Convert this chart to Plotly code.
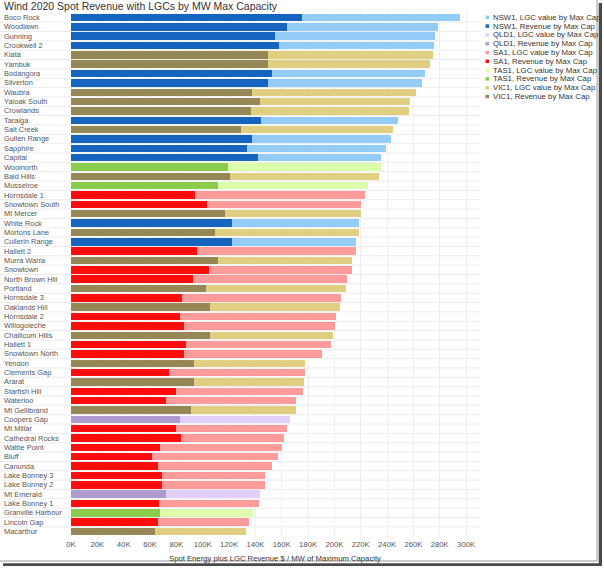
import plotly.graph_objects as go

# ---------------- data (values in $K per MW of max capacity) ----------------
farms = ["Boco Rock", "Woodlawn", "Gunning", "Crookwell 2", "Kiata", "Yambuk", "Bodangora",
         "Silverton", "Waubra", "Yaloak South", "Crowlands", "Taralga", "Salt Creek",
         "Gullen Range", "Sapphire", "Capital", "Woolnorth", "Bald Hills", "Musselroe",
         "Hornsdale 1", "Snowtown South", "Mt Mercer", "White Rock", "Mortons Lane",
         "Cullerin Range", "Hallett 2", "Murra Warra", "Snowtown", "North Brown Hill",
         "Portland", "Hornsdale 3", "Oaklands Hill", "Hornsdale 2", "Willogoleche",
         "Challicum Hills", "Hallett 1", "Snowtown North", "Yendon", "Clements Gap",
         "Ararat", "Starfish Hill", "Waterloo", "Mt Gellibrand", "Coopers Gap", "Mt Millar",
         "Cathedral Rocks", "Wattle Point", "Bluff", "Canunda", "Lake Bonney 3",
         "Lake Bonney 2", "Mt Emerald", "Lake Bonney 1", "Granville Harbour", "Lincoln Gap",
         "Macarthur"]

regions = ["NSW1", "NSW1", "NSW1", "NSW1", "VIC1", "VIC1", "NSW1",
           "NSW1", "VIC1", "VIC1", "VIC1", "NSW1", "VIC1",
           "NSW1", "NSW1", "NSW1", "TAS1", "VIC1", "TAS1",
           "SA1", "SA1", "VIC1", "NSW1", "VIC1",
           "NSW1", "SA1", "VIC1", "SA1", "SA1",
           "VIC1", "SA1", "VIC1", "SA1", "SA1",
           "VIC1", "SA1", "SA1", "VIC1", "SA1",
           "VIC1", "SA1", "SA1", "VIC1", "QLD1", "SA1",
           "SA1", "SA1", "SA1", "SA1", "SA1",
           "SA1", "QLD1", "SA1", "TAS1", "SA1",
           "VIC1"]

revenue = [175.7, 163.7, 154.7, 157.9, 149.3, 149.8, 152.6,
           149.8, 137.7, 143.5, 136.5, 144.3, 129.3,
           137.7, 133.4, 141.7, 119.2, 121.0, 111.6,
           94.4, 103.0, 116.9, 122.5, 109.0,
           122.0, 95.4, 111.6, 105.1, 92.4,
           102.5, 84.5, 105.3, 82.5, 86.0,
           105.3, 87.1, 86.0, 93.1, 74.4,
           93.1, 79.7, 71.9, 91.1, 82.8, 79.7,
           83.5, 67.8, 61.5, 66.3, 69.3,
           69.1, 72.4, 66.8, 67.3, 66.1,
           63.6]

lgc_value = [119.9, 115.0, 121.7, 117.7, 125.3, 122.8, 116.4,
             116.5, 124.5, 114.2, 120.4, 104.2, 115.4,
             105.3, 105.5, 93.9, 115.9, 112.6, 114.2,
             129.1, 117.4, 103.3, 96.2, 109.4,
             94.6, 120.7, 102.0, 108.3, 117.4,
             106.3, 120.3, 99.2, 118.7, 114.7,
             93.6, 110.3, 104.8, 84.6, 103.0,
             84.1, 96.2, 98.9, 79.7, 83.7, 84.5,
             78.5, 92.7, 95.9, 86.1, 77.8,
             78.2, 70.9, 75.7, 71.1, 68.8,
             69.3]

region_order = ["NSW1", "QLD1", "SA1", "TAS1", "VIC1"]
tick_values = [0, 20, 40, 60, 80, 100, 120, 140, 160, 180, 200, 220, 240, 260, 280, 300]
tick_labels = ["0K", "20K", "40K", "60K", "80K", "100K", "120K", "140K", "160K", "180K",
               "200K", "220K", "240K", "260K", "280K", "300K"]

# ---------------- styling ----------------
rev_colors = {"NSW1": "#1565c0", "QLD1": "#ae9bcf", "SA1": "#ff0d0d",
              "TAS1": "#8bcc4e", "VIC1": "#958856"}
lgc_colors = {"NSW1": "#93cdf7", "QLD1": "#e2cffa", "SA1": "#ff9b9b",
              "TAS1": "#dcffab", "VIC1": "#e0cf81"}

FONT = "Arial, Liberation Sans, sans-serif"
W, H = 604, 569
L, R, T, B = 71, 476, 11, 538
PW, PH = R - L, B - T


def px(x):
    return (x - L) / PW


def py(y):
    return (B - y) / PH


fig = go.Figure()

# revenue segments first (stack base), then LGC segments
for reg in region_order:
    ys = [f for f, r in zip(farms, regions) if r == reg]
    xs = [v for v, r in zip(revenue, regions) if r == reg]
    fig.add_trace(go.Bar(y=ys, x=xs, orientation="h", name=f"{reg}, Revenue by Max Cap",
                         marker=dict(color=rev_colors[reg], line=dict(width=0)),
                         showlegend=False))
for reg in region_order:
    ys = [f for f, r in zip(farms, regions) if r == reg]
    xs = [v for v, r in zip(lgc_value, regions) if r == reg]
    fig.add_trace(go.Bar(y=ys, x=xs, orientation="h", name=f"{reg}, LGC value by Max Cap",
                         marker=dict(color=lgc_colors[reg], line=dict(width=0)),
                         showlegend=False))

shapes = []
annotations = []

# row separators
for i in range(len(farms) - 1):
    shapes.append(dict(type="line", xref="paper", yref="y", x0=px(0), x1=px(480),
                       y0=i + 0.5, y1=i + 0.5, line=dict(color="#ececec", width=1),
                       layer="below"))

# left-aligned row labels
for f in farms:
    annotations.append(dict(text=f, xref="paper", yref="y", x=px(2), y=f,
                            xanchor="left", yanchor="middle", showarrow=False,
                            font=dict(family=FONT, size=7.4, color="#555555")))

# manual compact legend
legend_items = []
for reg in region_order:
    legend_items.append((f"{reg}, LGC value by Max Cap", lgc_colors[reg]))
    legend_items.append((f"{reg}, Revenue by Max Cap", rev_colors[reg]))
for k, (txt, col) in enumerate(legend_items):
    yc = 17.3 + k * 8.8
    shapes.append(dict(type="rect", xref="paper", yref="paper",
                       x0=px(485.5), x1=px(489), y0=py(yc + 1.75), y1=py(yc - 1.75),
                       fillcolor=col, line=dict(width=0)))
    annotations.append(dict(text=txt, xref="paper", yref="paper", x=px(490.5), y=py(yc),
                            xanchor="left", yanchor="middle", showarrow=False,
                            font=dict(family=FONT, size=7.8, color="#333333")))

# title and axis title
annotations.append(dict(text="Wind 2020 Spot Revenue with LGCs by MW Max Capacity",
                        xref="paper", yref="paper", x=px(2), y=py(6.5),
                        xanchor="left", yanchor="middle", showarrow=False,
                        font=dict(family=FONT, size=10.5, color="#333333")))
annotations.append(dict(text="Spot Energy plus LGC Revenue $ / MW of Maximum Capacity",
                        xref="paper", yref="paper", x=px(275), y=py(558),
                        xanchor="center", yanchor="middle", showarrow=False,
                        font=dict(family=FONT, size=7.7, color="#333333")))

# picture frame with shadow
shapes.append(dict(type="line", xref="paper", yref="paper", x0=px(597), x1=px(597),
                   y0=py(0), y1=py(561), line=dict(color="#9a9a9a", width=1)))
shapes.append(dict(type="line", xref="paper", yref="paper", x0=px(0), x1=px(597),
                   y0=py(561), y1=py(561), line=dict(color="#9a9a9a", width=1)))
shapes.append(dict(type="rect", xref="paper", yref="paper", x0=px(598.7), x1=px(602),
                   y0=py(566), y1=py(3), fillcolor="#4a4a4a", line=dict(width=0)))
shapes.append(dict(type="rect", xref="paper", yref="paper", x0=px(3), x1=px(602),
                   y0=py(566), y1=py(563.2), fillcolor="#4a4a4a", line=dict(width=0)))

fig.update_layout(
    width=W, height=H,
    margin=dict(l=L, r=W - R, t=T, b=H - B, pad=0),
    barmode="stack", bargap=0.2,
    plot_bgcolor="white", paper_bgcolor="white",
    font=dict(family=FONT, size=7.7, color="#555555"),
    xaxis=dict(range=[0, PW / 1.317], tickmode="array", tickvals=tick_values,
               ticktext=tick_labels,
               showgrid=True, gridcolor="#efefef", gridwidth=1, zeroline=False,
               showline=False, ticks="", tickfont=dict(size=7.7, color="#555555"),
               fixedrange=True),
    yaxis=dict(categoryorder="array", categoryarray=farms, autorange="reversed",
               showticklabels=False, showgrid=False, zeroline=False, ticks="",
               showline=False, fixedrange=True),
    shapes=shapes, annotations=annotations,
    showlegend=False,
)

fig.write_html("out.html", config={"displayModeBar": False},
               post_script="document.body.style.margin='0';document.body.style.overflow='hidden';")
